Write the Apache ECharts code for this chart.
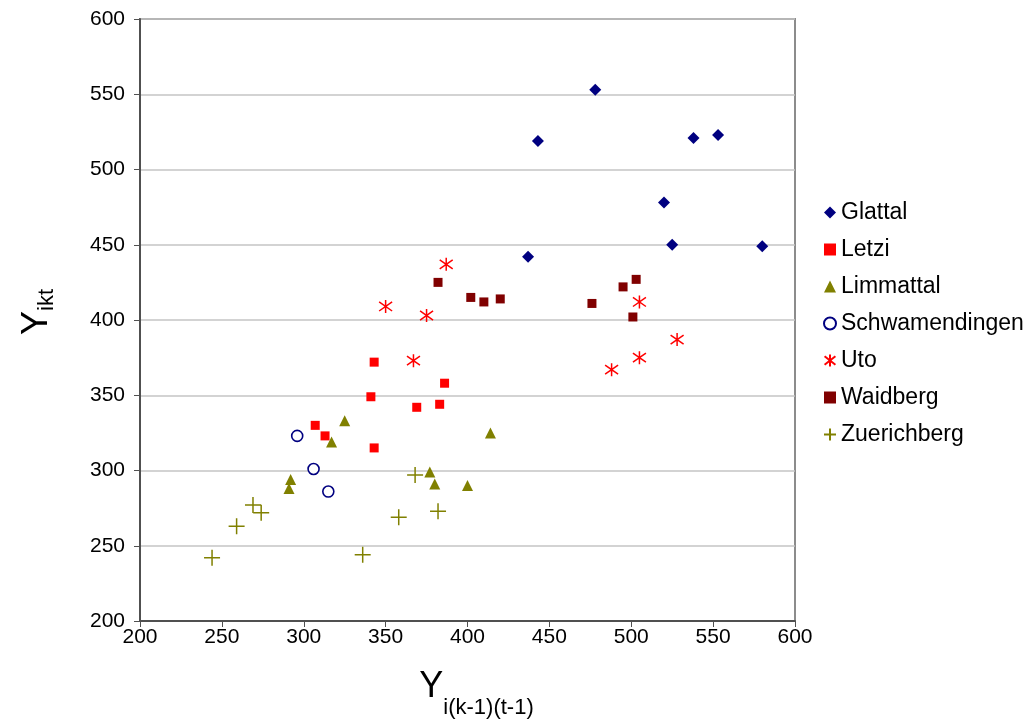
<!DOCTYPE html>
<html>
<head>
<meta charset="utf-8">
<title>Y ikt scatter</title>
<script src="https://cdn.jsdelivr.net/npm/echarts@6/dist/echarts.min.js"></script>
<style>
    html, body { margin: 0; padding: 0; background: #fff; }
    #main { width: 1034px; height: 719px; }
</style>
</head>
<body>
<div id="main"></div>
<script>
'use strict';

// Werte: [Y i(k-1)(t-1), Y ikt]
var seriesNames = ['Glattal', 'Letzi', 'Limmattal', 'Schwamendingen', 'Uto', 'Waidberg', 'Zuerichberg'];
var glattal = [[478, 553], [443, 519], [538, 521], [553, 523], [520, 478], [525, 450], [580, 449], [437, 442]];
var letzi = [[307, 330], [313, 323], [343, 372], [341, 349], [386, 358], [369, 342], [383, 344], [343, 315]];
var limmattal = [[325, 333], [317, 319], [414, 325], [377, 299], [380, 291], [400, 290], [292, 294], [291, 288]];
var schwamendingen = [[296, 323], [306, 301], [315, 286]];
var uto = [[387, 437], [350, 409], [375, 403], [367, 373], [505, 412], [505, 375], [488, 367], [528, 387]];
var waidberg = [[382, 425], [402, 415], [410, 412], [420, 414], [476, 411], [495, 422], [503, 427], [501, 402]];
var zuerichberg = [[269, 277], [274, 272], [259, 263], [244, 242], [368, 297], [382, 273], [358, 269], [336, 244]];

// Achsen: 200 .. 600, Schritt 50
var axisMin = 200;
var axisMax = 600;
var axisStep = 50;

(function() {
    var myChart = echarts.init(document.getElementById('main'));

    var font = '"Liberation Sans", Arial, sans-serif';

    // Stern und Plus als eigene Pfade (nur Linien)
    var asterisk = 'path://M1,0L1,2M0.1,0.3L1.9,1.7M0.1,1.7L1.9,0.3';
    var plus = 'path://M1,0L1,2M0,1L2,1';

    // Beschriftung mit tiefgestelltem Index (lineHeight steuert, wie tief der Index sitzt)
    function subRich(lh) {
        return {
            a: { fontSize: 36, fontFamily: font, color: '#000', lineHeight: lh, verticalAlign: 'top' },
            b: { fontSize: 22, fontFamily: font, color: '#000', lineHeight: lh, verticalAlign: 'bottom' }
        };
    }

    function makeSeries(name, data, symbol, size, itemStyle) {
        itemStyle.opacity = 1;
        return {
            name: name,
            type: 'scatter',
            data: data,
            symbol: symbol,
            symbolSize: size,
            itemStyle: itemStyle,
            emphasis: { disabled: true }
        };
    }

    var option = {
        animation: false,
        backgroundColor: '#fff',
        grid: {
            left: 140,
            right: 239,
            top: 19,
            bottom: 98,
            // Plotfläche fest, nicht wegen der Achsentitel verkleinern
            outerBoundsMode: 'none',
            containLabel: false,
            show: true,
            borderColor: '#8c8c8c',
            borderWidth: 2
        },
        legend: {
            orient: 'vertical',
            left: 818,
            top: 196,
            itemWidth: 12,
            itemHeight: 12,
            itemGap: 14,
            textStyle: {
                fontFamily: font,
                fontSize: 23,
                lineHeight: 23,
                color: '#000'
            },
            data: seriesNames
        },
        xAxis: {
            type: 'value',
            min: axisMin,
            max: axisMax,
            interval: axisStep,
            name: '{a|Y}{b|i(k-1)(t-1)}',
            nameLocation: 'middle',
            nameGap: 48,
            nameTextStyle: { rich: subRich(50), padding: [0, 0, 0, 18] },
            axisLine: { lineStyle: { color: '#505050', width: 2 } },
            axisTick: { show: true, length: 6, lineStyle: { color: '#505050' } },
            axisLabel: { fontFamily: font, fontSize: 21, color: '#000', margin: 6 },
            splitLine: { show: false }
        },
        yAxis: {
            type: 'value',
            min: axisMin,
            max: axisMax,
            interval: axisStep,
            name: '{a|Y}{b|ikt}',
            nameLocation: 'middle',
            nameGap: 82,
            nameTextStyle: { rich: subRich(39), padding: [0, 0, 0, 16] },
            axisLine: { show: true, lineStyle: { color: '#505050', width: 2 } },
            axisTick: { show: true, length: 6, lineStyle: { color: '#505050' } },
            axisLabel: { fontFamily: font, fontSize: 21, color: '#000', margin: 15 },
            splitLine: { lineStyle: { color: '#c4c4c4', width: 1.5 } }
        },
        series: [
            makeSeries('Glattal', glattal, 'diamond', 12, { color: '#000080' }),
            makeSeries('Letzi', letzi, 'rect', 9, { color: '#ff0000' }),
            makeSeries('Limmattal', limmattal, 'triangle', 11, { color: '#808000' }),
            makeSeries('Schwamendingen', schwamendingen, 'circle', 11,
                { color: '#fff', borderColor: '#000080', borderWidth: 1.6 }),
            makeSeries('Uto', uto, asterisk, 13,
                { color: '#ff0000', borderColor: '#ff0000', borderWidth: 1.5 }),
            makeSeries('Waidberg', waidberg, 'rect', 9, { color: '#800000' }),
            makeSeries('Zuerichberg', zuerichberg, plus, 16,
                { color: '#808000', borderColor: '#808000', borderWidth: 1.5 })
        ]
    };

    myChart.setOption(option);
})();
</script>
</body>
</html>
